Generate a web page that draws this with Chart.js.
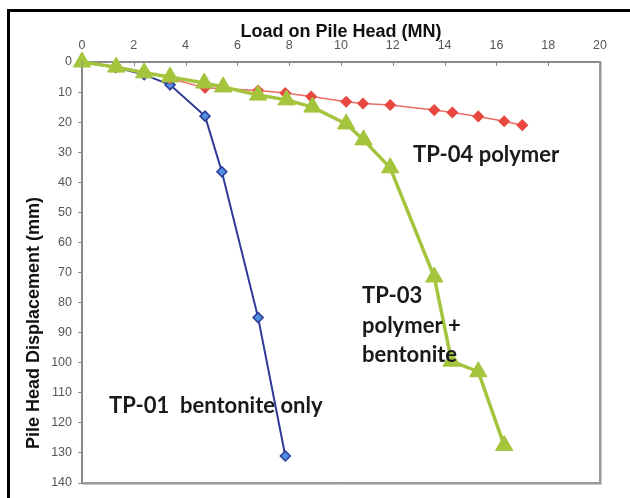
<!DOCTYPE html>
<html>
<head>
<meta charset="utf-8">
<script src="https://cdn.jsdelivr.net/npm/chart.js@4"></script>
<style>
  html, body { margin: 0; padding: 0; background: #fff; }
  #wrap { width: 630px; height: 498px; position: relative; }
</style>
</head>
<body>
<div id="wrap"><canvas id="pileChart"></canvas></div>
<script>
// TP-01 bentonite only
const load01 = [0, 1.3, 2.4, 3.4, 4.75, 5.4, 6.8, 7.85];
const disp01 = [0, 1.8, 4.2, 7.6, 18, 36.5, 85, 131];
// TP-03 polymer + bentonite
const load03 = [0, 1.32, 2.4, 3.4, 4.72, 5.45, 6.8, 7.9, 8.9, 10.2, 10.87, 11.9, 13.6, 14.27, 15.3, 16.3];
const disp03 = [0, 1.7, 3.6, 5, 7, 8.3, 11, 12.6, 15, 20.6, 25.9, 35.2, 71.5, 99.5, 103, 127.5];
// TP-04 polymer
const load04 = [0, 1.3, 2.4, 3.4, 4.75, 6.8, 7.85, 8.85, 10.2, 10.85, 11.9, 13.6, 14.3, 15.3, 16.3, 17.0];
const disp04 = [0, 1.5, 3.2, 5.5, 8.6, 9.5, 10.3, 11.5, 13.2, 13.8, 14.3, 16, 16.8, 18.1, 19.7, 21];

const xTicks = [0, 2, 4, 6, 8, 10, 12, 14, 16, 18, 20];
const yTicks = [0, 10, 20, 30, 40, 50, 60, 70, 80, 90, 100, 110, 120, 130, 140];

const toPoints = (xs, ys) => xs.map((x, i) => ({ x: x, y: ys[i] }));

// 图中文字标注
const notes = [
    { lines: ['TP-04 polymer'], x: 413, y: 162 },
    { lines: ['TP-03', 'polymer +', 'bentonite'], x: 362, y: 303 },
    { lines: ['TP-01  bentonite only'], x: 109, y: 413 }
];

const framePlugin = {
    id: 'frame',
    beforeDraw(chart) {
        const ctx = chart.ctx;
        ctx.save();
        ctx.fillStyle = '#fff';
        ctx.fillRect(0, 0, chart.width, chart.height);
        ctx.strokeStyle = '#000';
        ctx.lineWidth = 3;
        ctx.strokeRect(8.5, 10.5, chart.width + 20, chart.height + 20);
        ctx.restore();
    },
    afterDraw(chart) {
        const ctx = chart.ctx;
        const a = chart.chartArea;
        ctx.save();
        // right / bottom edge of the plot box
        ctx.strokeStyle = '#c8c8c8';
        ctx.lineWidth = 1;
        ctx.beginPath();
        ctx.moveTo(a.right + 1.5, a.top);
        ctx.lineTo(a.right + 1.5, a.bottom + 1.5);
        ctx.lineTo(a.left, a.bottom + 1.5);
        ctx.stroke();
        ctx.strokeStyle = '#9a9a9a';
        ctx.lineWidth = 2;
        ctx.beginPath();
        ctx.moveTo(a.right, a.top);
        ctx.lineTo(a.right, a.bottom);
        ctx.lineTo(a.left, a.bottom);
        ctx.stroke();
        // inner tick marks on top axis
        const xs = chart.scales.x;
        ctx.strokeStyle = '#8a8a8a';
        ctx.lineWidth = 1;
        xTicks.forEach(v => {
            const px = Math.round(xs.getPixelForValue(v)) + 0.5;
            ctx.beginPath();
            ctx.moveTo(px, a.top);
            ctx.lineTo(px, a.top + 4);
            ctx.stroke();
        });
        // y title
        ctx.fillStyle = '#111';
        ctx.font = 'bold 18px "Liberation Sans", Arial, sans-serif';
        ctx.textAlign = 'center';
        ctx.textBaseline = 'middle';
        ctx.translate(34, 323);
        ctx.rotate(-Math.PI / 2);
        ctx.fillText('Pile Head Displacement (mm)', 0, 0);
        ctx.restore();
        // notes
        ctx.save();
        ctx.fillStyle = '#1a1a1a';
        ctx.font = 'bold 22px Lato, "Open Sans", sans-serif';
        ctx.textAlign = 'left';
        ctx.textBaseline = 'alphabetic';
        notes.forEach(n => {
            n.lines.forEach((t, i) => ctx.fillText(t, n.x, n.y + i * 29.5));
        });
        ctx.restore();
    }
};

const tickFont = { family: '"Liberation Sans", Arial, sans-serif', size: 12.5 };

new Chart(document.getElementById('pileChart'), {
    type: 'scatter',
    data: {
        datasets: [
            {
                label: 'TP-03 polymer + bentonite',
                data: toPoints(load03, disp03),
                showLine: true,
                borderColor: '#a5c43e',
                backgroundColor: '#a5c43e',
                borderWidth: 3.5,
                pointStyle: 'triangle',
                pointRadius: 10,
                pointBorderWidth: 1,
                clip: false,
                order: 1
            },
            {
                label: 'TP-04 polymer',
                data: toPoints(load04, disp04),
                showLine: true,
                borderColor: '#ec6a62',
                backgroundColor: '#e8473f',
                pointBorderColor: '#e8473f',
                borderWidth: 1.5,
                pointStyle: 'rectRot',
                pointRadius: 5,
                clip: false,
                order: 2
            },
            {
                label: 'TP-01 bentonite only',
                data: toPoints(load01, disp01),
                showLine: true,
                borderColor: '#2e3b96',
                backgroundColor: '#4f8fe0',
                pointBorderColor: '#2e3b96',
                pointBorderWidth: 1.5,
                borderWidth: 2,
                pointStyle: 'rectRot',
                pointRadius: 5,
                clip: false,
                order: 3
            }
        ]
    },
    options: {
        responsive: true,
        maintainAspectRatio: false,
        animation: false,
        events: [],
        layout: { padding: { left: 0, top: 0, right: 30, bottom: 15 } },
        plugins: {
            legend: { display: false },
            tooltip: { enabled: false }
        },
        scales: {
            x: {
                type: 'linear',
                position: 'top',
                min: 0,
                max: 20,
                afterFit: s => { s.height = 62; },
                afterBuildTicks: s => { s.ticks = xTicks.map(v => ({ value: v })); },
                ticks: { font: tickFont, color: '#555', padding: 9 },
                grid: { display: false, drawTicks: false },
                border: { display: true, color: '#8a8a8a', width: 2 },
                title: {
                    display: true,
                    text: 'Load on Pile Head (MN)',
                    color: '#111',
                    font: { family: '"Liberation Sans", Arial, sans-serif', size: 18, weight: 'bold' },
                    padding: { top: 21, bottom: 0 }
                }
            },
            y: {
                type: 'linear',
                reverse: true,
                min: 0,
                max: 140,
                afterFit: s => { s.width = 82; },
                afterBuildTicks: s => { s.ticks = yTicks.map(v => ({ value: v })); },
                ticks: { font: tickFont, color: '#555', padding: 6 },
                grid: { display: true, drawOnChartArea: false, drawTicks: true, tickLength: 4, color: '#8a8a8a' },
                border: { display: true, color: '#8a8a8a', width: 2 }
            }
        }
    },
    plugins: [framePlugin]
});
</script>
</body>
</html>
